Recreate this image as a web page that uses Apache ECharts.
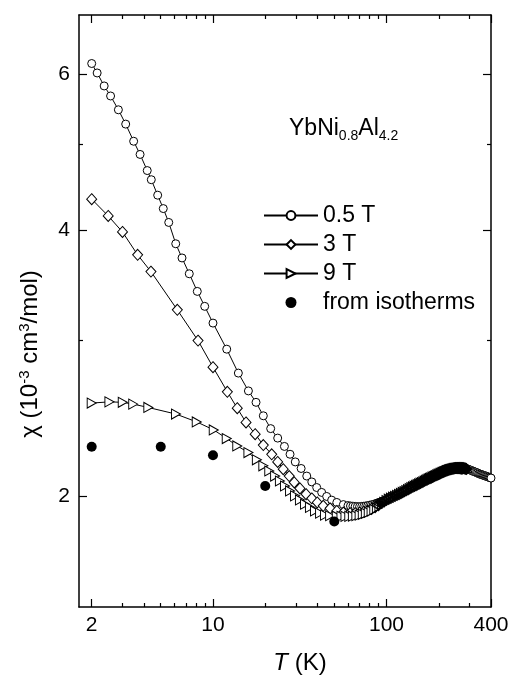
<!DOCTYPE html>
<html><head><meta charset="utf-8">
<script src="https://cdn.jsdelivr.net/npm/echarts@6/dist/echarts.min.js"></script>
<style>html,body{margin:0;padding:0;background:#fff}#c{width:512px;height:675px}</style>
</head><body><div id="c"></div>
<script>
// ---- tick values ----
const xMajorTicks = [2, 10, 100, 400];
const xMinorTicks = [3, 4, 5, 6, 7, 8, 9, 20, 30, 40, 50, 60, 70, 80, 90, 200, 300];
const yMajorTicks = [2, 4, 6];
const yMinorTicks = [3, 5];

// ---- 0.5 T (circles) ----
const T_05 = [2.0,2.15,2.36,2.57,2.85,3.14,3.49,3.80,4.18,4.41,4.80,5.17,5.56,6.10,6.63,7.30,8.12,8.96,10.0,
  12.0,14.0,16.0,17.7,19.5,21.5,23.6,25.8,27.8,29.8,32.2,34.7,37.1,39.6,42.3,45.2,48.3,51.7,56.4,
  60,62,64,66,68,70,72,74,76,78,80,82,84,86,88,90,92,94,96,98,100,
  104,108,112,116,120,124,128,132,136,140,144,148,152,156,160,164,168,172,176,180,184,188,192,196,200,
  205,210,215,220,225,230,235,240,245,250,255,260,265,270,275,280,285,290,295,300,
  305,310,315,320,325,330,335,340,345,350,355,360,365,370,375,380,385,390,395,400];
const chi_05 = [6.17,6.02,5.82,5.67,5.47,5.27,5.04,4.87,4.67,4.56,4.38,4.23,4.08,3.86,3.72,3.57,3.41,3.28,3.14,
  2.934,2.757,2.632,2.555,2.467,2.386,2.328,2.278,2.232,2.188,2.151,2.109,2.077,2.047,2.021,2.000,1.981,1.969,1.958,
  1.953,1.951,1.950,1.949,1.948,1.948,1.949,1.950,1.951,1.953,1.955,1.957,1.959,1.962,1.965,1.968,1.971,1.974,1.977,1.980,1.983,
  1.990,1.996,2.002,2.009,2.015,2.022,2.029,2.036,2.043,2.049,2.054,2.059,2.064,2.070,2.076,2.081,2.086,2.091,2.095,2.100,2.104,2.108,2.113,2.117,2.122,
  2.126,2.131,2.135,2.139,2.142,2.144,2.147,2.150,2.151,2.153,2.154,2.155,2.155,2.155,2.155,2.154,2.152,2.150,2.147,2.144,
  2.142,2.139,2.136,2.133,2.131,2.128,2.126,2.122,2.120,2.118,2.116,2.114,2.112,2.110,2.108,2.106,2.104,2.102,2.100,2.098];

// ---- 3 T (diamonds) ----
const T_3 = [2.0,2.49,3.01,3.68,4.39,6.23,8.2,10.0,12.1,13.8,15.5,17.5,19.5,21.8,23.6,25.4,27.5,29.4,31.7,34.4,37.1,39.9,43.2,47.3,51.7,56.4,61.7,
  66,70,74,78,82,86,90,94,97,
  100,103,106,109,112,115,118,121,124,127,130,133,136,139,142,145,148,151,154,157,160,163,166,169,172,175,178,181,184,187,
  190,193,196,199,202,205,208,211,214,217,220,223,226,229,232,235,238,241,244,247,250,253,256,259,262,265,268,271,274,277,280,283,286,289];
const chi_3 = [4.335,4.15,3.98,3.75,3.59,3.25,3.00,2.80,2.626,2.516,2.425,2.352,2.286,2.232,2.188,2.147,2.109,2.074,2.042,2.012,1.990,1.969,1.952,1.939,1.926,1.918,1.915,
  1.915,1.918,1.922,1.928,1.936,1.945,1.955,1.966,1.974,
  1.981,1.987,1.992,1.997,2.002,2.007,2.012,2.017,2.022,2.027,2.032,2.037,2.042,2.047,2.051,2.055,2.059,2.063,2.067,2.071,2.075,2.079,2.083,2.087,2.090,2.094,2.097,2.100,2.104,2.107,
  2.110,2.113,2.116,2.119,2.122,2.125,2.128,2.130,2.133,2.135,2.138,2.140,2.142,2.144,2.146,2.147,2.149,2.150,2.151,2.152,2.153,2.153,2.154,2.154,2.154,2.154,2.154,2.154,2.153,2.153,2.152,2.151,2.150,2.148];

// ---- 9 T (triangles) ----
const T_9 = [2.0,2.53,3.02,3.47,4.24,6.12,8.06,10.1,12.0,13.8,16.0,17.9,19.5,21.1,22.8,24.3,26.0,27.8,29.7,31.7,33.9,36.2,38.7,41.4,44.2,47.3,51.7,
  55,58,61,64,67,70,73,76,79,82,85,88,91,94,97,
  100,103,106,109,112,115,118,121,124,127,130,133,136,139,142,145,148,151,154,157,160,163,166,169,172,175,178,181,184,187,
  190,193,196,199,202,205,208,211,214,217,220,223,226,229,232,235,238,241,244,247,250,253,256,259,262,265,268,271,274,277,280,283,286,289];
const chi_9 = [2.55,2.558,2.555,2.543,2.521,2.478,2.428,2.378,2.325,2.281,2.242,2.200,2.166,2.137,2.109,2.082,2.055,2.029,2.003,1.982,1.960,1.944,1.926,1.915,1.905,1.902,1.900,
  1.899,1.899,1.899,1.900,1.902,1.905,1.909,1.914,1.919,1.926,1.933,1.941,1.950,1.960,1.970,
  1.979,1.986,1.991,1.997,2.001,2.006,2.011,2.016,2.021,2.026,2.031,2.036,2.041,2.046,2.050,2.054,2.058,2.062,2.066,2.070,2.074,2.078,2.082,2.086,2.089,2.093,2.096,2.099,2.103,2.106,
  2.109,2.112,2.115,2.118,2.121,2.124,2.127,2.129,2.132,2.134,2.137,2.139,2.141,2.143,2.145,2.146,2.148,2.149,2.150,2.151,2.152,2.152,2.153,2.153,2.153,2.153,2.153,2.153,2.152,2.152,2.151,2.150,2.149,2.147];

// ---- from isotherms (filled dots) ----
const T_iso = [2, 5, 10, 20, 50];
const chi_iso = [2.276, 2.276, 2.226, 2.055, 1.874];

const legendNames = ['0.5 T', '3 T', '9 T', 'from isotherms'];

const FONT = "'Liberation Sans', Arial, Helvetica, sans-serif";
const CLEAR = 'rgba(255,255,255,0)';
// where all three field curves overlap (about 88-290 K) the dense points are drawn as open outlines,
// so they pile up into the dark band seen in the original
const pts = (Ts, chis) => Ts.map((t, i) => (t >= 88 && t <= 292) ? { value: [t, chis[i]], itemStyle: { color: CLEAR } } : [t, chis[i]]);

function xAx(pos, ticks, len, showLabel, showLine) {
  return {
    type: 'log', logBase: 10, min: 1.69, max: 400, position: pos,
    axisLine: { show: showLine, onZero: false, lineStyle: { color: '#000', width: 1.5 } },
    axisTick: { show: true, inside: true, length: len, customValues: ticks, lineStyle: { color: '#000', width: 1.2 } },
    axisLabel: { show: showLabel, customValues: ticks, color: '#000', fontSize: 21, fontFamily: FONT, margin: 8,
      formatter: v => String(Math.round(v)) },
    splitLine: { show: false }, minorTick: { show: false }, minorSplitLine: { show: false }
  };
}
function yAx(pos, ticks, len, showLabel, showLine) {
  return {
    type: 'log', logBase: 10, min: 1.5, max: 7, position: pos,
    axisLine: { show: showLine, onZero: false, lineStyle: { color: '#000', width: 1.5 } },
    axisTick: { show: true, inside: true, length: len, customValues: ticks, lineStyle: { color: '#000', width: 1.2 } },
    axisLabel: { show: showLabel, customValues: ticks, color: '#000', fontSize: 21, fontFamily: FONT, margin: 9,
      formatter: v => String(Math.round(v)) },
    splitLine: { show: false }, minorTick: { show: false }, minorSplitLine: { show: false }
  };
}

const chart = echarts.init(document.getElementById('c'), null, { renderer: 'canvas' });
chart.setOption({
  animation: false,
  backgroundColor: '#fff',
  grid: { left: 79, right: 21, top: 15, bottom: 68, outerBoundsMode: 'none', containLabel: false },
  xAxis: [
    xAx('bottom', xMajorTicks, 8, true, true),
    xAx('bottom', xMinorTicks, 4, false, false),
    xAx('top', xMajorTicks, 8, false, true),
    xAx('top', xMinorTicks, 4, false, false)
  ],
  yAxis: [
    yAx('left', yMajorTicks, 8, true, true),
    yAx('left', yMinorTicks, 4, false, false),
    yAx('right', yMajorTicks, 8, false, true),
    yAx('right', yMinorTicks, 4, false, false)
  ],
  legend: {
    orient: 'vertical', left: 263, top: 204, padding: 0, itemWidth: 54, itemHeight: 11, itemGap: 6,
    data: legendNames,
    textStyle: { fontSize: 23, color: '#000', fontFamily: FONT },
    selectedMode: false
  },
  series: [
    { name: '0.5 T', type: 'line', data: pts(T_05, chi_05), symbol: 'circle', symbolSize: 8, showAllSymbol: true,
      itemStyle: { color: '#fff', borderColor: '#000', borderWidth: 1 }, lineStyle: { color: '#000', width: 1 }, z: 3 },
    { name: '3 T', type: 'line', data: pts(T_3, chi_3), symbol: 'diamond', symbolSize: [10, 11], showAllSymbol: true,
      itemStyle: { color: '#fff', borderColor: '#000', borderWidth: 1 }, lineStyle: { color: '#000', width: 1 }, z: 4 },
    { name: '9 T', type: 'line', data: pts(T_9, chi_9), symbol: 'triangle', symbolRotate: -90, symbolSize: [10, 9], showAllSymbol: true,
      itemStyle: { color: '#fff', borderColor: '#000', borderWidth: 1 }, lineStyle: { color: '#000', width: 1 }, z: 5 },
    { name: 'from isotherms', type: 'scatter', data: T_iso.map((t, i) => [t, chi_iso[i]]), symbol: 'circle', symbolSize: 10,
      itemStyle: { color: '#000', opacity: 1 }, z: 6 }
  ],
  graphic: [
    { type: 'text', x: 30, y: 354, rotation: Math.PI / 2,
      style: { text: '{a|χ (10}{s|-3}{a| cm}{s|3}{a|/mol)}', align: 'center', verticalAlign: 'middle',
        rich: { a: { fontSize: 24, fontFamily: FONT, fill: '#000', lineHeight: 26 },
                s: { fontSize: 15, fontFamily: FONT, fill: '#000', verticalAlign: 'top', lineHeight: 26 } } } },
    { type: 'text', x: 300, y: 663,
      style: { text: '{i|T}{a| (K)}', align: 'center', verticalAlign: 'middle',
        rich: { i: { fontSize: 24, fontStyle: 'italic', fontFamily: FONT, fill: '#000' },
                a: { fontSize: 24, fontFamily: FONT, fill: '#000' } } } },
    { type: 'text', x: 289, y: 129,
      style: { text: '{a|YbNi}{b|0.8}{a|Al}{b|4.2}', align: 'left', verticalAlign: 'middle',
        rich: { a: { fontSize: 23, fontFamily: FONT, fill: '#000', lineHeight: 28 },
                b: { fontSize: 14, fontFamily: FONT, fill: '#000', verticalAlign: 'bottom', lineHeight: 28 } } } }
  ]
});
</script>
</body></html>
